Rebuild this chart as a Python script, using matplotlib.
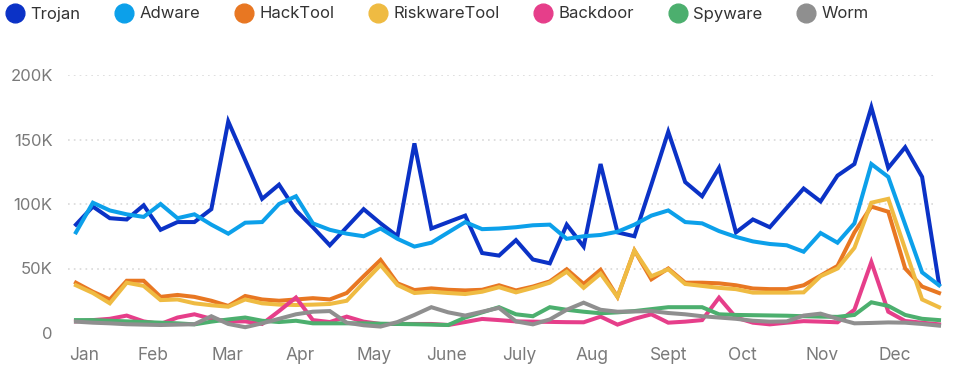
import numpy as np
import matplotlib.pyplot as plt
from matplotlib.lines import Line2D

plt.rcParams['font.family'] = ['Inter', 'DejaVu Sans']

# weekly detections (thousands), week 0 = first week of Jan
weeks = np.arange(52)

trojan = [84, 98, 89, 88, 99, 80, 86, 86, 96, 164, 134, 104, 115, 95, 82, 68, 82, 96, 85, 75,
          147, 81, 86, 91, 62, 60, 72, 57, 54, 84, 67, 131, 78, 75, 115, 156, 117, 106, 128, 78,
          88, 82, 97, 112, 102, 122, 131, 175, 128, 144, 121, 38]
adware = [78, 101, 95, 92, 90, 100, 89, 92, 84, 77, 85.5, 86, 100, 106, 85, 80, 77, 75, 81, 73,
          67, 70, 78, 86, 80.5, 81, 82, 83.5, 84, 73, 75, 76, 78.5, 84, 91, 95, 86, 85, 79, 74.5,
          71, 69, 68, 63, 77.5, 70, 85, 131, 121, 84, 47, 37]
hacktool = [39, 32, 26, 40.5, 40.5, 28, 29.5, 28, 25, 21, 28.7, 26, 25, 26, 27, 26, 31, 44, 56.6, 38.5,
            33.3, 34.6, 33.5, 33, 33.5, 37, 33, 36, 40, 49.4, 38, 49, 28, 64, 41.6, 50, 39, 39, 38.5, 37,
            34.5, 34, 34, 37, 44.5, 52, 78, 98, 94, 50, 36, 31]
riskware = [37, 31, 23, 39, 36.5, 25.5, 26, 23, 21.5, 20.4, 26, 23, 22, 21.7, 22, 22.5, 25, 39, 52.7, 37.2,
            31, 32, 31, 30.2, 32, 35.5, 31.5, 35, 39, 47.5, 35, 46, 28, 64, 44, 49.4, 38, 36.5, 35, 34,
            31.3, 31.3, 31.3, 31.5, 44, 50, 66, 101, 104, 65, 26, 20]
backdoor = [9, 10, 11, 13.5, 9, 7, 12, 14.5, 11, 9, 9, 7, 17, 27.5, 10, 8.5, 12.7, 8.8, 7, 7,
            7, 7, 6.2, 8.5, 10.9, 10, 9, 8.8, 8.6, 8.4, 8.3, 12.7, 6.5, 11, 14.5, 8, 8.8, 10, 27.4, 12,
            8, 6.7, 8, 9.2, 8.8, 8.3, 18, 55, 16.5, 9.3, 8, 6.7]
spyware = [10, 10, 9.5, 9, 8.5, 8, 7.5, 6.7, 8.8, 10.5, 12, 9.5, 8.5, 9.5, 7.5, 7.5, 7.5, 7.5, 7.2, 7,
           6.8, 6.5, 6.2, 12, 16, 20, 14.5, 13, 20, 18, 16.5, 15.3, 16, 17, 18.5, 20, 20, 20, 14.5, 14,
           13.8, 13.6, 13.4, 13, 12.7, 12.5, 14, 23.8, 21, 14, 11, 10]
worm = [8.8, 8, 7.5, 6.8, 6.5, 6.2, 6.5, 6.8, 13, 7, 4.5, 7.5, 11, 14.5, 16.5, 17, 8, 6, 5, 8.5,
        14, 20, 16, 13.5, 16.5, 19.5, 9, 6.7, 10.5, 18, 23.5, 18, 16.5, 16.7, 17, 15.5, 14.5, 13, 12, 11,
        9.5, 8.8, 9, 13.5, 15, 11, 7.5, 7.8, 8.2, 8, 7, 5.7]

names = ['Trojan', 'Adware', 'HackTool', 'RiskwareTool', 'Backdoor', 'Spyware', 'Worm']
colors = ['#0b32c6', '#0ca0ea', '#e87722', '#efbb42', '#e63e8a', '#4caf6e', '#8f8f8f']
series = [trojan, adware, hacktool, riskware, backdoor, spyware, worm]

month_labels = ['Jan', 'Feb', 'Mar', 'Apr', 'May', 'June', 'July', 'Aug', 'Sept', 'Oct', 'Nov', 'Dec']
month_pos = [0.47, 4.55, 8.98, 13.24, 17.6, 21.9, 26.2, 30.5, 35.0, 39.4, 44.1, 48.4]

y_ticks = [0, 50, 100, 150, 200]
y_labels = ['0', '50K', '100K', '150K', '200K']

fig = plt.figure(figsize=(9.6, 3.76), dpi=100)
ax = fig.add_axes([68 / 960, 1 - 333 / 376, (937 - 68) / 960, (333 - 75) / 376])

for vals, c in zip(series, colors):
    ax.plot(weeks, vals, color=c, lw=2.9, clip_on=False, solid_joinstyle='miter')

ax.set_xlim(-0.47, 50.88)
ax.set_ylim(0, 200)
ax.set_xticks(month_pos)
ax.set_xticklabels(month_labels)
ax.set_yticks(y_ticks)
ax.set_yticklabels(y_labels)
ax.tick_params(axis='both', length=0, colors='#7a7a7a')
ax.tick_params(axis='y', pad=11, labelsize=12)
ax.tick_params(axis='x', pad=10, labelsize=12.5)

for v in y_ticks[1:]:
    ax.axhline(v, color='#d9d9d9', lw=1.2, ls=(0, (1, 2.5)), zorder=0)

for s in ax.spines.values():
    s.set_visible(False)

handles = [Line2D([], [], ls='none', marker='o', markersize=13.5, color=c) for c in colors]
fig.legend(handles, names, loc='center left', bbox_to_anchor=(5 / 960, 1 - 14 / 376),
           ncol=7, frameon=False, fontsize=12, labelcolor='#333333',
           handlelength=1.15, handletextpad=0.35, columnspacing=2.05,
           borderpad=0, borderaxespad=0)

fig.savefig('out.png', dpi=100)
